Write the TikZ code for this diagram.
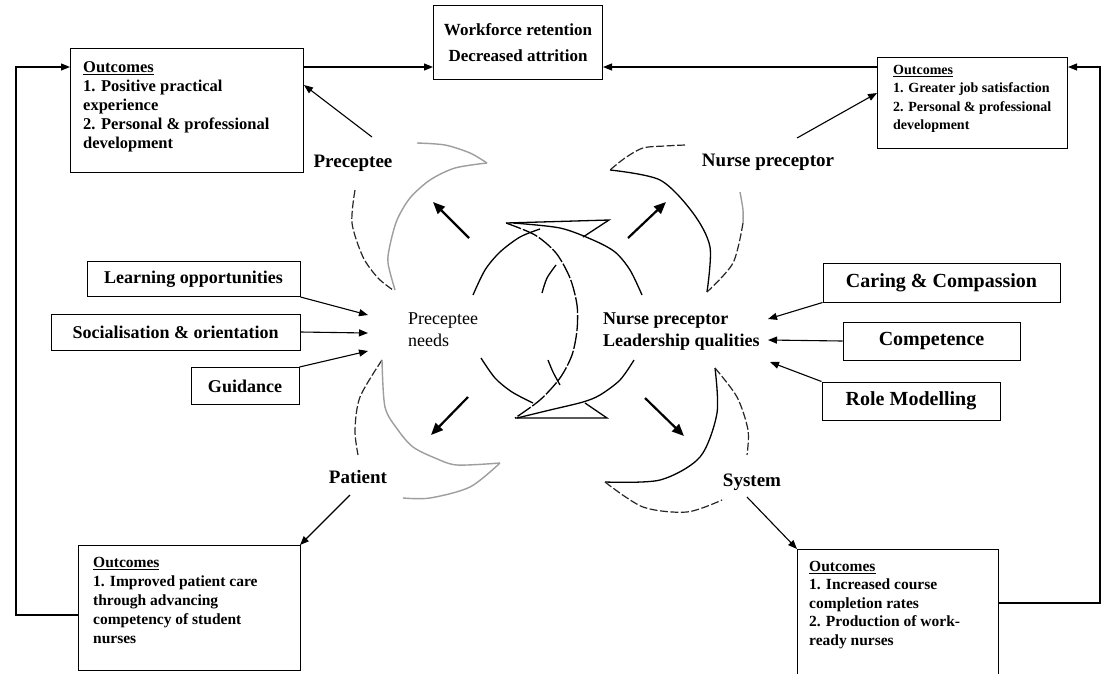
\documentclass[tikz,border=0pt]{standalone}
\usepackage{fontspec}
\setmainfont{Liberation Serif}
\usetikzlibrary{arrows.meta}
\begin{document}
\begin{tikzpicture}[x=1pt,y=-1pt,
  box/.style={draw=black,line width=1pt,inner sep=0pt},
  otxt/.style={inner sep=0pt,align=left,anchor=north west},
  arr/.style={draw=black,line width=1.1pt,-{Triangle[length=9pt,width=7pt]}},
  bigarr/.style={draw=black,line width=2.2pt,-{Triangle[length=12pt,width=10pt]}},
  lab/.style={inner sep=0pt,font=\fontsize{19}{22}\selectfont\bfseries},
  sidebox/.style={box,font=\fontsize{18}{21}\selectfont\bfseries},
  rbox/.style={box,font=\fontsize{20}{23}\selectfont\bfseries},
  ring/.style={line width=1.3pt,black},
  dk/.style={line width=1.2pt,black!85,dash pattern=on 8pt off 2.5pt},
  gr/.style={line width=1.4pt,black!38},
]
\useasboundingbox (0,0) rectangle (1102,673);
\fill[white] (0,0) rectangle (1102,673);

% ---- outcome boxes ----
\node[box,minimum width=233pt,minimum height=124pt,anchor=north west] (tl) at (70,48) {};
\node[otxt,font=\fontsize{16.5}{19}\selectfont\bfseries] (tlt) at (83,61)
  {\underline{Outcomes}\\1. Positive practical\\experience\\2. Personal \& professional\\development};

\node[box,minimum width=169pt,minimum height=74pt,anchor=north west] (wf) at (433,5) {};
\node[inner sep=0pt,align=center,font=\fontsize{17}{26}\selectfont\bfseries] (wft) at (wf.center)
  {Workforce retention\\Decreased attrition};

\node[box,minimum width=190pt,minimum height=91pt,anchor=north west] (tr) at (877,57) {};
\node[otxt,font=\fontsize{14}{18.5}\selectfont\bfseries] (trt) at (893,65)
  {\underline{Outcomes}\\1. Greater job satisfaction\\2. Personal \& professional\\development};

\node[box,minimum width=222pt,minimum height=125pt,anchor=north west] (bl) at (78,545) {};
\node[otxt,font=\fontsize{15.5}{19}\selectfont\bfseries] (blt) at (93,557)
  {\underline{Outcomes}\\1. Improved patient care\\through advancing\\competency of student\\nurses};

\node[box,minimum width=201pt,minimum height=140pt,anchor=north west] (br) at (797,549) {};
\node[otxt,font=\fontsize{15.5}{18.5}\selectfont\bfseries] (brt) at (809,561)
  {\underline{Outcomes}\\1. Increased course\\completion rates\\2. Production of work-\\ready nurses};

% ---- side boxes ----
\node[sidebox,minimum width=213pt,minimum height=35pt] (learn) at (193.5,279) {Learning opportunities};
\node[sidebox,minimum width=249pt,minimum height=36pt] (soc) at (175.5,332) {Socialisation \& orientation};
\node[sidebox,minimum width=108pt,minimum height=37pt] (guid) at (245,386) {Guidance};
\node[rbox,minimum width=237pt,minimum height=39pt] (care) at (941.5,282.5) {Caring \& Compassion};
\node[rbox,minimum width=177pt,minimum height=38pt] (comp) at (931.5,341) {Competence};
\node[rbox,minimum width=178pt,minimum height=38pt] (role) at (911,401) {Role Modelling};

% ---- labels ----
\node[lab] (lpre) at (353,163) {Preceptee};
\node[lab] (lnur) at (768,162) {Nurse preceptor};
\node[lab] (lpat) at (358,477) {Patient};
\node[lab] (lsys) at (752,482) {System};
\node[otxt,font=\fontsize{18}{22}\selectfont] (need) at (408,313) {Preceptee\\needs};
\node[otxt,font=\fontsize{18}{22}\selectfont\bfseries] (lead) at (603,313) {Nurse preceptor\\Leadership qualities};

% ---- coordinates ----
\coordinate (ytop) at (0,67);
\coordinate (lx) at (16,615);
\coordinate (ly) at (16,67);
\coordinate (rx) at (1100,603);
\coordinate (ry) at (1100,67);
\coordinate (tipA) at (368,315);
\coordinate (tipB) at (368,333);
\coordinate (tipC) at (368,351);
\coordinate (tipD) at (768,319);
\coordinate (tipE) at (768,340);
\coordinate (tipF) at (770,362);
\coordinate (pS) at (372,137);
\coordinate (pE) at (303,85);
\coordinate (nS) at (797,138);
\coordinate (nE) at (877,93);
\coordinate (aS) at (350,495);
\coordinate (aE) at (300,545);
\coordinate (sS) at (747,497);
\coordinate (sE) at (797,549);

% ---- connectors ----
\draw[arr] (tl.east |- ytop) -- (wf.west |- ytop);
\draw[arr] (tr.west |- ytop) -- (wf.east |- ytop);
\draw[arr] (bl.west |- lx) -- (lx) -- (ly) -- (tl.west |- ly);
\draw[arr] (br.east |- rx) -- (rx) -- (ry) -- (tr.east |- ry);
\draw[arr] (pS) -- (tl.east |- pE);
\draw[arr] (nS) -- (tr.west |- nE);
\draw[arr] (aS) -- (aE);
\draw[arr] (sS) -- (sE);

\draw[arr] (learn.south east) -- (tipA);
\draw[arr] (soc.east) -- (tipB);
\draw[arr] (guid.north east) -- (tipC);
\draw[arr] (care.south west) -- (tipD);
\draw[arr] (comp.west) -- (tipE);
\draw[arr] (role.north west) -- (tipF);

% ---- central diagonal arrows ----
\draw[bigarr] (469,238) -- (433,202);
\draw[bigarr] (628,238) -- (666,202);
\draw[bigarr] (468,397) -- (431,435);
\draw[bigarr] (645,398) -- (684,436);

% ---- central interlocking crescents ----
\draw[ring] plot[smooth] coordinates {(473,295) (485,270) (500,252) (520,237) (540,229)};
\draw[ring] plot[smooth] coordinates {(481,358) (495,378) (512,392) (533,403)};
\draw[ring,dash pattern=on 16pt off 2pt] plot[smooth] coordinates {(506,223) (535,235) (556,253) (570,278) (577,305) (577,330) (572,355) (560,378) (540,400) (515,418)};
\draw[ring] plot[smooth] coordinates {(513,223) (560,228) (593,240) (615,252) (630,270) (642,295)};
\draw[ring] plot[smooth] coordinates {(634,360) (620,380) (600,395) (583,402) (550,410) (517,418)};
\draw[ring] (506,223) -- (609,220) -- (583,237);
\draw[ring] (515,418) -- (607,418) -- (585,403);
\draw[ring] plot[smooth] coordinates {(542,293) (547,278) (556,265)};
\draw[ring] plot[smooth] coordinates {(548,360) (553,372) (560,385)};

% ---- outer crescents ----
% top-left
\draw[dk] plot[smooth] coordinates {(355,190) (352,223) (363,257) (378,278) (393,290)};
\draw[gr] plot[smooth] coordinates {(417,143) (445,145) (470,153) (487,163)};
\draw[gr] plot[smooth] coordinates {(487,163) (455,168) (430,180) (410,198) (397,220) (390,245) (388,263) (395,290)};
% top-right
\draw[dk] plot[smooth] coordinates {(685,145) (665,146) (643,148) (625,158) (610,170)};
\draw[ring] plot[smooth] coordinates {(610,170) (660,180) (693,213) (710,247) (707,292)};
\draw[gr] plot[smooth] coordinates {(740,192) (743,210) (743,223)};
\draw[dk] plot[smooth] coordinates {(743,223) (733,263) (707,292)};
% bottom-left
\draw[dk] plot[smooth] coordinates {(382,360) (360,397) (355,430) (358,455)};
\draw[gr] plot[smooth] coordinates {(382,360) (385,407) (398,430) (413,447) (435,458) (457,465) (500,463)};
\draw[gr] plot[smooth] coordinates {(500,463) (470,487) (430,498) (403,498)};
% bottom-right
\draw[ring] plot[smooth] coordinates {(715,368) (717,413) (700,457) (660,480) (605,482)};
\draw[dk] plot[smooth] coordinates {(605,482) (643,507) (687,512) (722,500)};
\draw[dk] plot[smooth] coordinates {(715,368) (737,397) (748,430) (747,455)};
\end{tikzpicture}
\end{document}
